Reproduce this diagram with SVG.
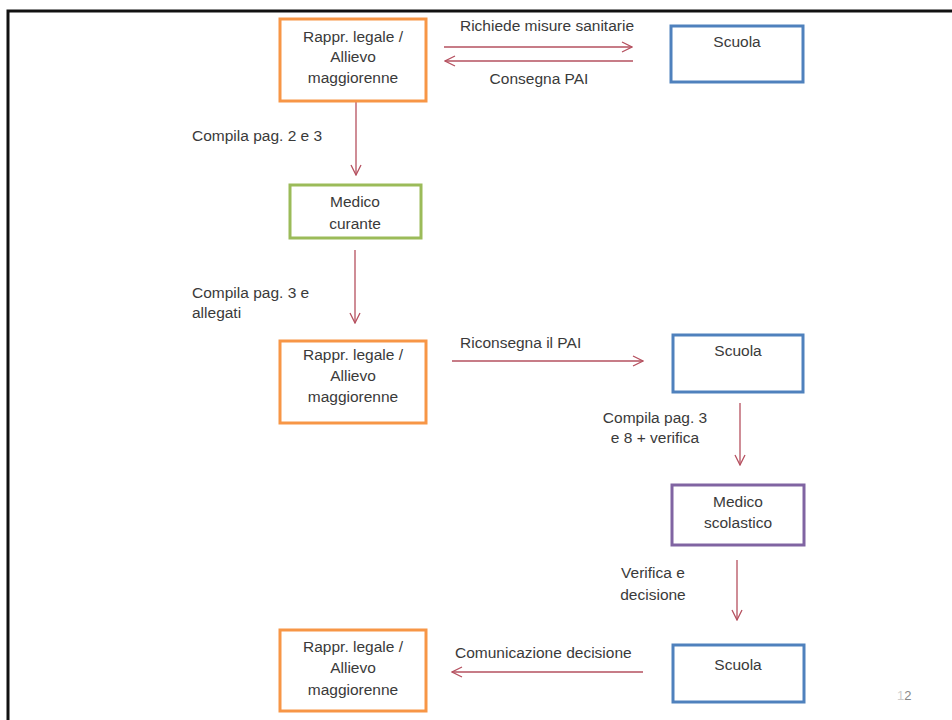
<svg xmlns="http://www.w3.org/2000/svg" width="952" height="720" viewBox="0 0 952 720">
<style>
  .t{font-family:"Liberation Sans",Arial,sans-serif;font-size:15.5px;fill:#3a3a3a}
  .c{text-anchor:middle}
  .box{fill:#ffffff;stroke-width:3}
  .or{stroke:#f79646}
  .bl{stroke:#4f81bd}
  .gr{stroke:#9bbb59}
  .pu{stroke:#8064a2}
  .ar{stroke:#b5505f;stroke-width:1.3;fill:none;marker-end:url(#ah)}
</style>
<defs>
  <marker id="ah" viewBox="0 0 12 12" refX="11" refY="6" markerWidth="12" markerHeight="12" markerUnits="userSpaceOnUse" orient="auto">
    <polyline points="1,1 11,6 1,11" fill="none" stroke="#b5505f" stroke-width="1.3"/>
  </marker>
</defs>
<rect width="952" height="720" fill="#ffffff"/>
<path d="M8,720 V11 H952" fill="none" stroke="#111111" stroke-width="3"/>

<g id="connectors">
  <line class="ar" x1="444" y1="47" x2="632" y2="47"/>
  <line class="ar" x1="633" y1="61" x2="445" y2="61"/>
  <line class="ar" x1="356" y1="102" x2="356" y2="175"/>
  <line class="ar" x1="355" y1="250" x2="355" y2="323"/>
  <line class="ar" x1="452" y1="361" x2="643" y2="361"/>
  <line class="ar" x1="740" y1="403" x2="740" y2="465"/>
  <line class="ar" x1="737" y1="560" x2="737" y2="620"/>
  <line class="ar" x1="643" y1="672" x2="452" y2="672"/>
  <text class="t c" x="547" y="31">Richiede misure sanitarie</text>
  <text class="t c" x="539" y="84">Consegna PAI</text>
  <text class="t" x="192" y="141">Compila pag. 2 e 3</text>
  <text class="t" x="192" y="298">Compila pag. 3 e</text>
  <text class="t" x="192" y="318">allegati</text>
  <text class="t" x="460" y="348">Riconsegna il PAI</text>
  <text class="t c" x="655" y="423">Compila pag. 3</text>
  <text class="t c" x="655" y="443">e 8 + verifica</text>
  <text class="t c" x="653" y="578">Verifica e</text>
  <text class="t c" x="653" y="600">decisione</text>
  <text class="t" x="455" y="658">Comunicazione decisione</text>
</g>

<g id="rappr1">
  <rect class="box or" x="280" y="19" width="146" height="82"/>
  <text class="t c" x="353" y="42">Rappr. legale /</text>
  <text class="t c" x="353" y="62">Allievo</text>
  <text class="t c" x="353" y="83">maggiorenne</text>
</g>
<g id="scuola1">
  <rect class="box bl" x="671" y="26" width="132" height="56"/>
  <text class="t c" x="737" y="47">Scuola</text>
</g>
<g id="medico-curante">
  <rect class="box gr" x="290" y="185" width="131" height="53"/>
  <text class="t c" x="355" y="207">Medico</text>
  <text class="t c" x="355" y="229">curante</text>
</g>
<g id="rappr2">
  <rect class="box or" x="280" y="341" width="146" height="82"/>
  <text class="t c" x="353" y="360">Rappr. legale /</text>
  <text class="t c" x="353" y="381">Allievo</text>
  <text class="t c" x="353" y="402">maggiorenne</text>
</g>
<g id="scuola2">
  <rect class="box bl" x="673" y="335" width="130" height="57"/>
  <text class="t c" x="738" y="356">Scuola</text>
</g>
<g id="medico-scolastico">
  <rect class="box pu" x="672" y="485" width="132" height="60"/>
  <text class="t c" x="738" y="507">Medico</text>
  <text class="t c" x="738" y="528">scolastico</text>
</g>
<g id="rappr3">
  <rect class="box or" x="280" y="630" width="146" height="81"/>
  <text class="t c" x="353" y="652">Rappr. legale /</text>
  <text class="t c" x="353" y="673">Allievo</text>
  <text class="t c" x="353" y="695">maggiorenne</text>
</g>
<g id="scuola3">
  <rect class="box bl" x="673" y="645" width="131" height="57"/>
  <text class="t c" x="738" y="670">Scuola</text>
</g>
<text x="897" y="700" style="font-family:'Liberation Sans',Arial,sans-serif;font-size:13px;fill:#888888"><tspan fill="#cccccc">1</tspan>2</text>
</svg>
